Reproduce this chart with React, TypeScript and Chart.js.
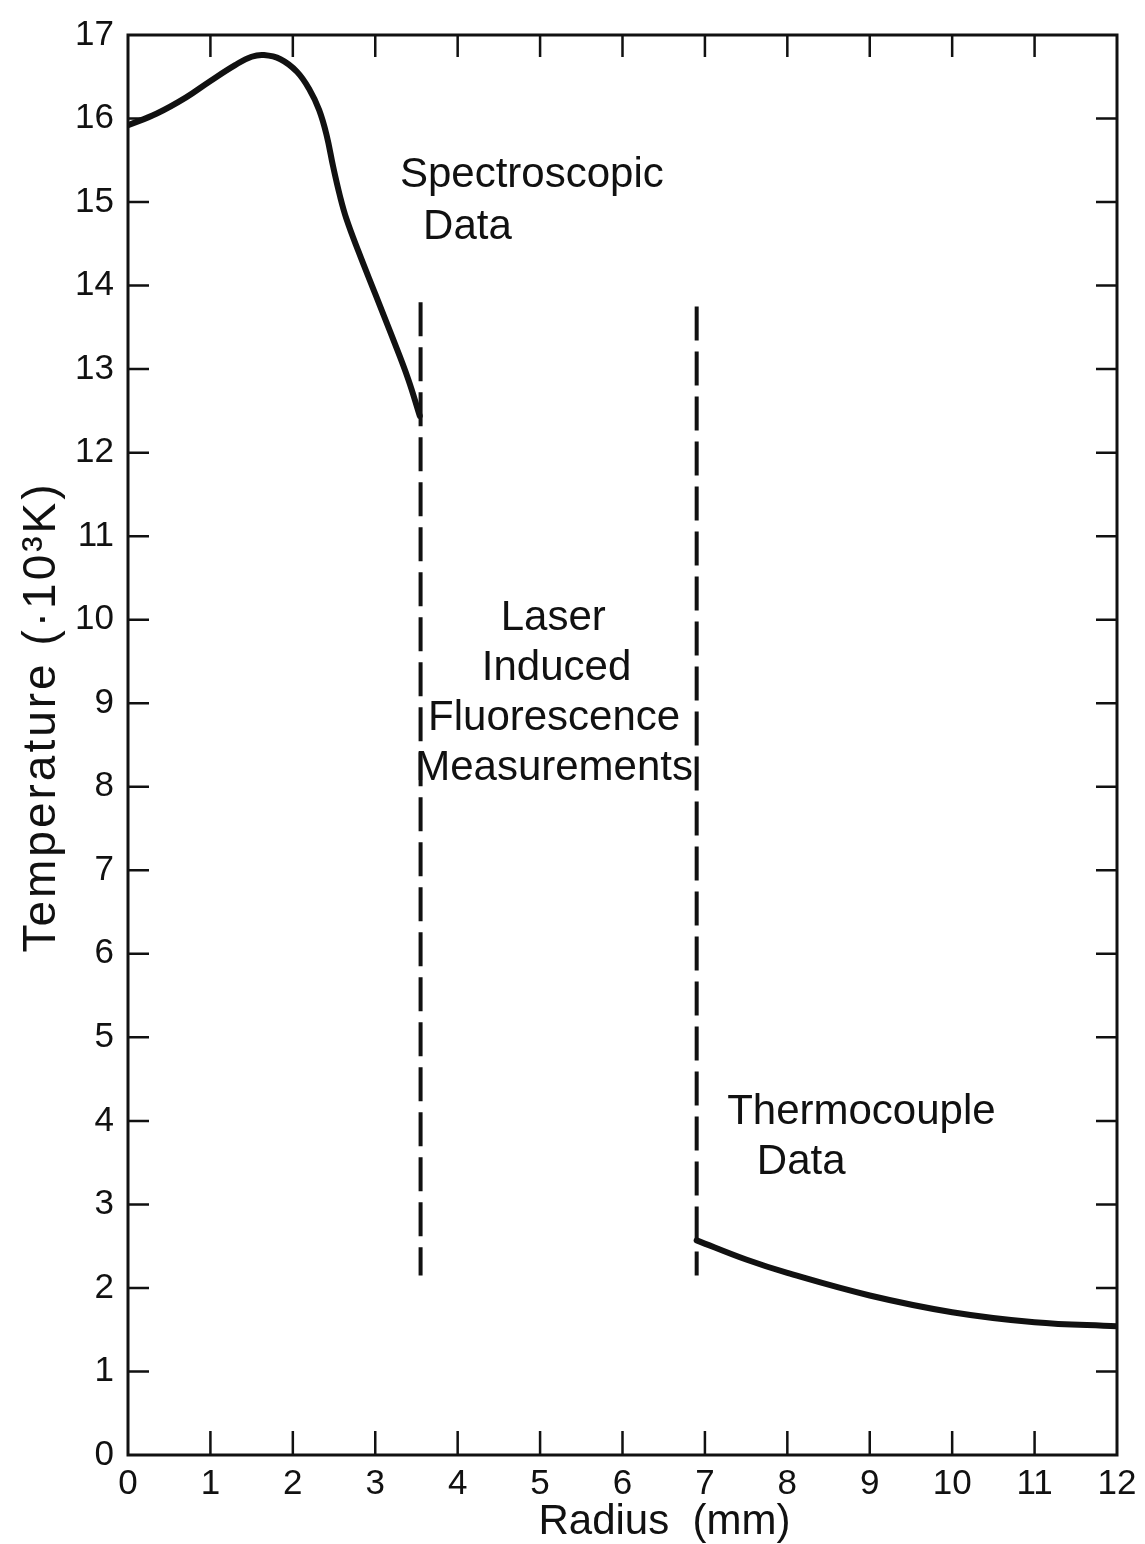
import React, { useEffect, useRef } from "react";
import { Chart, registerables } from "chart.js";

Chart.register(...registerables);

// ---- data ----
const spectroRadius = [0, 0.35, 0.7, 1.0, 1.3, 1.5, 1.65, 1.85, 2.05, 2.2, 2.32, 2.41, 2.49, 2.57, 2.65, 2.8, 3.0, 3.2, 3.4, 3.54];
const spectroTemp = [15.92, 16.06, 16.25, 16.45, 16.64, 16.74, 16.76, 16.71, 16.56, 16.35, 16.1, 15.8, 15.42, 15.08, 14.8, 14.4, 13.9, 13.4, 12.88, 12.44];

const thermoRadius = [6.9, 7.5, 8, 9, 10, 11, 12];
const thermoTemp = [2.57, 2.34, 2.18, 1.91, 1.71, 1.59, 1.54];

const boundaryARadius = [3.55, 3.55];
const boundaryATemp = [13.8, 2.15];
const boundaryBRadius = [6.9, 6.9];
const boundaryBTemp = [13.75, 2.15];

const xTickValues = [0, 1, 2, 3, 4, 5, 6, 7, 8, 9, 10, 11, 12];
const yTickValues = [0, 1, 2, 3, 4, 5, 6, 7, 8, 9, 10, 11, 12, 13, 14, 15, 16, 17];

const annotationTexts = [
  "Spectroscopic",
  "Data",
  "Laser",
  "Induced",
  "Fluorescence",
  "Measurements",
  "Thermocouple",
  "Data",
];

const xTitle = "Radius  (mm)";
const yTitle = "Temperature (\u00B710\u00B3K)";

// ---- styling / placement ----
const FONT = "'Liberation Sans', Arial, sans-serif";
const INK = "#111";
const annotationPlacement = [
  { x: 3.3, y: 15.32, align: "left" },
  { x: 3.58, y: 14.7, align: "left" },
  { x: 5.16, y: 10.02, align: "center" },
  { x: 5.2, y: 9.42, align: "center" },
  { x: 5.17, y: 8.82, align: "center" },
  { x: 5.17, y: 8.22, align: "center" },
  { x: 7.27, y: 4.1, align: "left" },
  { x: 7.63, y: 3.5, align: "left" },
];

const toPoints = (xs: number[], ys: number[]) => xs.map((x, i) => ({ x, y: ys[i] }));

const framePlugin = {
  id: "frameAndText",
  afterDraw(chart: any) {
    const ctx = chart.ctx;
    const { left, right, top, bottom } = chart.chartArea;
    const xs = chart.scales.x;
    const ys = chart.scales.y;
    ctx.save();
    ctx.strokeStyle = INK;
    ctx.lineWidth = 3;
    ctx.strokeRect(left, top, right - left, bottom - top);
    // inward ticks
    ctx.lineWidth = 2.5;
    ctx.beginPath();
    for (let v = 1; v < 12; v++) {
      const px = xs.getPixelForValue(v);
      ctx.moveTo(px, bottom);
      ctx.lineTo(px, bottom - 24);
      ctx.moveTo(px, top);
      ctx.lineTo(px, top + 22);
    }
    for (let v = 1; v < 17; v++) {
      const py = ys.getPixelForValue(v);
      ctx.moveTo(left, py);
      ctx.lineTo(left + 21, py);
      ctx.moveTo(right, py);
      ctx.lineTo(right - 21, py);
    }
    ctx.stroke();

    // annotations
    ctx.fillStyle = INK;
    ctx.font = `42px ${FONT}`;
    ctx.textBaseline = "middle";
    annotationTexts.forEach((t, i) => {
      const p = annotationPlacement[i];
      ctx.textAlign = p.align;
      ctx.fillText(t, xs.getPixelForValue(p.x), ys.getPixelForValue(p.y));
    });

    // axis titles
    ctx.font = `42px ${FONT}`;
    ctx.textAlign = "center";
    ctx.fillText(xTitle, (left + right) / 2 + 42, chart.height - 22);
    ctx.save();
    ctx.translate(42, (top + bottom) / 2 - 28);
    ctx.rotate(-Math.PI / 2);
    ctx.font = `46px ${FONT}`;
    try {
      (ctx as any).letterSpacing = "3px";
    } catch (e) {}
    ctx.fillText(yTitle, 0, 0);
    ctx.restore();
    ctx.restore();
  },
};

export default function App() {
  const ref = useRef<HTMLCanvasElement | null>(null);

  useEffect(() => {
    if (!ref.current) return;
    const solid = {
      borderColor: INK,
      borderWidth: 6,
      pointRadius: 0,
      fill: false,
      tension: 0.4,
      borderCapStyle: "round" as const,
      borderJoinStyle: "round" as const,
    };
    const dashed = {
      borderColor: INK,
      borderWidth: 4,
      borderDash: [34, 11],
      pointRadius: 0,
      fill: false,
      tension: 0,
    };
    const chart = new Chart(ref.current, {
      type: "line",
      data: {
        datasets: [
          { label: "Spectroscopic Data", data: toPoints(spectroRadius, spectroTemp), ...solid },
          { label: "Thermocouple Data", data: toPoints(thermoRadius, thermoTemp), ...solid },
          { label: "LIF boundary A", data: toPoints(boundaryARadius, boundaryATemp), ...dashed },
          { label: "LIF boundary B", data: toPoints(boundaryBRadius, boundaryBTemp), ...dashed },
        ],
      },
      options: {
        responsive: false,
        maintainAspectRatio: false,
        animation: false,
        layout: { padding: { left: 0, right: 28, top: 28, bottom: 0 } },
        plugins: { legend: { display: false }, tooltip: { enabled: false }, title: { display: false } },
        scales: {
          x: {
            type: "linear",
            min: 0,
            max: 12,
            afterBuildTicks: (s: any) => {
              s.ticks = xTickValues.map((v) => ({ value: v }));
            },
            afterFit: (s: any) => {
              s.height = 89;
            },
            ticks: {
              color: INK,
              font: { family: FONT, size: 35 },
              padding: 8,
              maxRotation: 0,
              autoSkip: false,
              callback: (v: any) => String(v),
            },
            grid: { display: false, drawTicks: false },
            border: { display: false },
          },
          y: {
            type: "linear",
            min: 0,
            max: 17,
            afterBuildTicks: (s: any) => {
              s.ticks = yTickValues.map((v) => ({ value: v }));
            },
            afterFit: (s: any) => {
              s.width = 128;
            },
            ticks: {
              color: INK,
              font: { family: FONT, size: 35 },
              padding: 14,
              autoSkip: false,
              callback: (v: any) => String(v),
            },
            grid: { display: false, drawTicks: false },
            border: { display: false },
          },
        },
      },
      plugins: [framePlugin],
    });
    return () => chart.destroy();
  }, []);

  return (
    <div style={{ position: "absolute", left: 0, top: 0, width: 1145, height: 1544, background: "#fff" }}>
      <canvas ref={ref} width={1145} height={1544} style={{ display: "block" }} />
    </div>
  );
}
